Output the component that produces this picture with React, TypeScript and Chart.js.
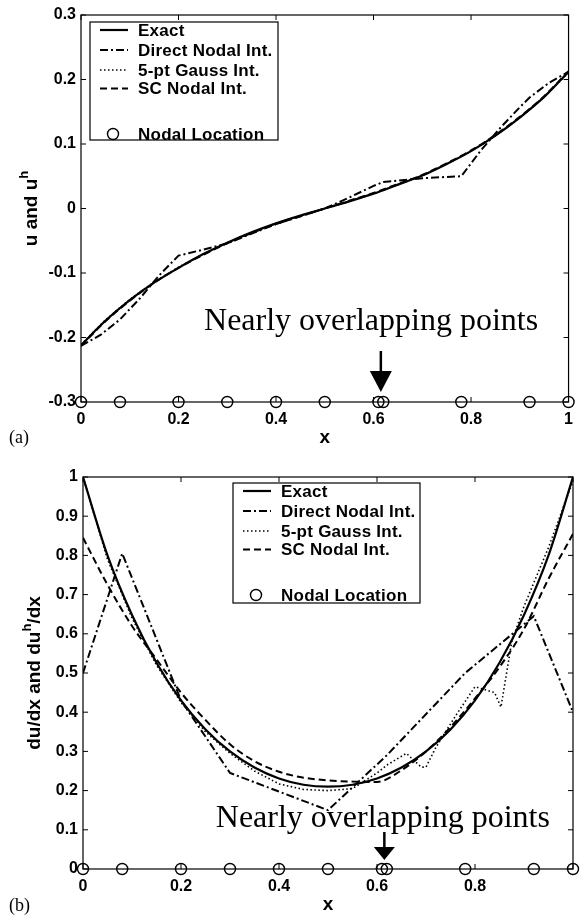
import React, { useEffect, useRef } from "react";
import { Chart, registerables } from "chart.js";

Chart.register(...registerables);

// ---------- data ----------
const xGrid = [0, 0.05, 0.1, 0.15, 0.2, 0.25, 0.3, 0.35, 0.4, 0.45, 0.5, 0.55, 0.6, 0.65, 0.7, 0.75, 0.8, 0.85, 0.9, 0.95, 1];
const nodalX = [0, 0.08, 0.2, 0.3, 0.4, 0.5, 0.61, 0.62, 0.78, 0.92, 1];

// (a) u and u^h
const exactU = [-0.212, -0.174, -0.142, -0.115, -0.092, -0.071, -0.053, -0.037, -0.023, -0.011, 0, 0.011, 0.023, 0.037, 0.051, 0.069, 0.089, 0.113, 0.141, 0.173, 0.212];
const gaussU = [-0.211, -0.173, -0.141, -0.114, -0.091, -0.071, -0.053, -0.037, -0.023, -0.011, 0, 0.011, 0.023, 0.037, 0.051, 0.069, 0.089, 0.113, 0.141, 0.173, 0.211];
const scU = [-0.213, -0.175, -0.143, -0.115, -0.092, -0.072, -0.054, -0.038, -0.024, -0.012, 0, 0.012, 0.024, 0.038, 0.052, 0.07, 0.09, 0.114, 0.142, 0.174, 0.213];
const directUX = [0, 0.04, 0.08, 0.12, 0.16, 0.2, 0.25, 0.3, 0.4, 0.5, 0.55, 0.6, 0.62, 0.7, 0.78, 0.82, 0.86, 0.9, 0.92, 0.96, 1];
const directU = [-0.213, -0.196, -0.172, -0.14, -0.104, -0.073, -0.064, -0.054, -0.024, 0, 0.017, 0.035, 0.041, 0.047, 0.05, 0.09, 0.125, 0.157, 0.172, 0.195, 0.212];

// (b) du/dx and du^h/dx
const exactDu = [1.0, 0.8, 0.648, 0.526, 0.43, 0.356, 0.3, 0.259, 0.231, 0.215, 0.21, 0.215, 0.231, 0.259, 0.3, 0.356, 0.43, 0.526, 0.648, 0.8, 1.0];
const scDu = [0.845, 0.725, 0.62, 0.535, 0.45, 0.38, 0.318, 0.275, 0.248, 0.233, 0.226, 0.223, 0.222, 0.252, 0.3, 0.362, 0.435, 0.515, 0.612, 0.74, 0.855];
const gaussDuX = [0, 0.05, 0.1, 0.15, 0.2, 0.25, 0.3, 0.35, 0.4, 0.45, 0.5, 0.55, 0.6, 0.62, 0.66, 0.69, 0.7, 0.72, 0.76, 0.8, 0.84, 0.853, 0.875, 0.9, 0.95, 1];
const gaussDu = [1.0, 0.79, 0.64, 0.52, 0.425, 0.35, 0.295, 0.25, 0.217, 0.203, 0.2, 0.205, 0.245, 0.265, 0.295, 0.26, 0.26, 0.31, 0.39, 0.465, 0.45, 0.413, 0.58, 0.67, 0.82, 0.99];
const directDuX = [0, 0.08, 0.2, 0.3, 0.5, 0.62, 0.78, 0.92, 1];
const directDu = [0.5, 0.805, 0.43, 0.245, 0.15, 0.29, 0.5, 0.645, 0.4];

const xTicks = [0, 0.2, 0.4, 0.6, 0.8, 1];
const uTicks = [-0.3, -0.2, -0.1, 0, 0.1, 0.2, 0.3];
const duTicks = [0, 0.1, 0.2, 0.3, 0.4, 0.5, 0.6, 0.7, 0.8, 0.9, 1];

const legendLabels = ["Exact", "Direct Nodal Int.", "5-pt Gauss Int.", "SC Nodal Int.", "Nodal Location"];
const noteText = "Nearly overlapping points";

// ---------- styles ----------
const SANS = "'Liberation Sans', Arial, Helvetica, sans-serif";
const SERIF = "'Liberation Serif', 'Times New Roman', serif";
const DASH_DOT = [8, 3, 2, 3];
const DOTTED = [1.5, 2.5];
const DASHED = [7, 4];

const pts = (xs: number[], ys: number[]) => xs.map((x, i) => ({ x, y: ys[i] }));

type PanelCfg = {
  width: number;
  height: number;
  area: { left: number; top: number; right: number; bottom: number };
  yMin: number;
  yMax: number;
  yTicks: number[];
  hideXLabel1: boolean;
  exact: number[];
  direct: { x: number[]; y: number[] };
  gauss: { x: number[]; y: number[] };
  sc: number[];
  yTitle: [string, string, string];
  yTitleX: number;
  legend: { x: number; y: number; w: number; h: number };
  noteX: number;
  noteBaseOff: number;
  arrow: { shaftTop: number; headTop: number; tip: number; half: number };
  panelLabel: string;
  labelBase: number;
};

function makePlugin(c: PanelCfg) {
  return {
    id: "decor",
    afterDatasetsDraw(chart: any) {
      const ctx: CanvasRenderingContext2D = chart.ctx;
      const a = chart.chartArea;
      const xs = chart.scales.x;
      const ys = chart.scales.y;
      ctx.save();
      ctx.setLineDash([]);
      ctx.strokeStyle = "#000";
      ctx.fillStyle = "#000";
      // frame
      ctx.lineWidth = 1.2;
      ctx.strokeRect(a.left, a.top, a.right - a.left, a.bottom - a.top);
      // inward ticks
      ctx.lineWidth = 1;
      const tl = 5;
      ctx.beginPath();
      for (const v of xTicks) {
        const px = xs.getPixelForValue(v);
        ctx.moveTo(px, a.bottom);
        ctx.lineTo(px, a.bottom - tl);
        ctx.moveTo(px, a.top);
        ctx.lineTo(px, a.top + tl);
      }
      for (const v of c.yTicks) {
        const py = ys.getPixelForValue(v);
        ctx.moveTo(a.left, py);
        ctx.lineTo(a.left + tl, py);
        ctx.moveTo(a.right, py);
        ctx.lineTo(a.right - tl, py);
      }
      ctx.stroke();

      // legend
      const L = c.legend;
      ctx.fillStyle = "#fff";
      ctx.fillRect(L.x, L.y, L.w, L.h);
      ctx.strokeStyle = "#000";
      ctx.lineWidth = 1.2;
      ctx.strokeRect(L.x, L.y, L.w, L.h);
      const rows = [8, 28, 48, 66.5, 112];
      const dashes = [[], DASH_DOT, DOTTED, DASHED];
      const widths = [2.2, 2, 1.6, 2];
      for (let i = 0; i < 4; i++) {
        const yy = L.y + rows[i];
        ctx.setLineDash(dashes[i]);
        ctx.lineWidth = widths[i];
        ctx.beginPath();
        ctx.moveTo(L.x + 10, yy);
        ctx.lineTo(L.x + 38, yy);
        ctx.stroke();
      }
      ctx.setLineDash([]);
      ctx.lineWidth = 1.4;
      ctx.beginPath();
      ctx.arc(L.x + 23, L.y + rows[4], 5.5, 0, Math.PI * 2);
      ctx.stroke();
      ctx.fillStyle = "#000";
      ctx.font = `bold 17px ${SANS}`;
      (ctx as any).letterSpacing = "0.25px";
      ctx.textBaseline = "middle";
      ctx.textAlign = "left";
      for (let i = 0; i < 5; i++) {
        ctx.fillText(legendLabels[i], L.x + 48, L.y + rows[i] + 1);
      }
      (ctx as any).letterSpacing = "0px";

      // annotation text + arrow
      ctx.font = `32px ${SERIF}`;
      ctx.textAlign = "center";
      ctx.textBaseline = "alphabetic";
      ctx.fillText(noteText, xs.getPixelForValue(c.noteX), a.bottom - c.noteBaseOff);
      const ax = xs.getPixelForValue(0.615);
      const ar = c.arrow;
      ctx.lineWidth = 2.5;
      ctx.beginPath();
      ctx.moveTo(ax, a.bottom - ar.shaftTop);
      ctx.lineTo(ax, a.bottom - ar.headTop);
      ctx.stroke();
      ctx.beginPath();
      ctx.moveTo(ax - ar.half, a.bottom - ar.headTop);
      ctx.lineTo(ax + ar.half, a.bottom - ar.headTop);
      ctx.lineTo(ax, a.bottom - ar.tip);
      ctx.closePath();
      ctx.fill();

      // x title
      ctx.font = `bold 19px ${SANS}`;
      ctx.textAlign = "center";
      ctx.fillText("x", (a.left + a.right) / 2, a.bottom + 41);

      // y title with superscript
      const [p1, sup, p2] = c.yTitle;
      const mainFont = `bold 19px ${SANS}`;
      const supFont = `bold 13px ${SANS}`;
      ctx.font = mainFont;
      const w1 = ctx.measureText(p1).width;
      const w3 = ctx.measureText(p2).width;
      ctx.font = supFont;
      const w2 = ctx.measureText(sup).width;
      const total = w1 + w2 + w3;
      ctx.save();
      ctx.translate(c.yTitleX, (a.top + a.bottom) / 2);
      ctx.rotate(-Math.PI / 2);
      ctx.textAlign = "left";
      let cx = -total / 2;
      ctx.font = mainFont;
      ctx.fillText(p1, cx, 0);
      cx += w1;
      ctx.font = supFont;
      ctx.fillText(sup, cx, -9);
      cx += w2;
      ctx.font = mainFont;
      ctx.fillText(p2, cx, 0);
      ctx.restore();

      // panel label
      ctx.font = `18px ${SERIF}`;
      ctx.textAlign = "left";
      ctx.fillText(c.panelLabel, 9, c.labelBase);
      ctx.restore();
    },
  };
}

function makeConfig(c: PanelCfg): any {
  const fmt = (v: number) => String(Math.round(v * 10) / 10);
  return {
    type: "scatter",
    data: {
      datasets: [
        {
          label: legendLabels[0],
          data: pts(xGrid, c.exact),
          showLine: true,
          borderColor: "#000",
          borderWidth: 2.2,
          pointRadius: 0,
          cubicInterpolationMode: "monotone",
        },
        {
          label: legendLabels[1],
          data: pts(c.direct.x, c.direct.y),
          showLine: true,
          borderColor: "#000",
          borderWidth: 2,
          borderDash: DASH_DOT,
          pointRadius: 0,
          tension: 0,
        },
        {
          label: legendLabels[2],
          data: pts(c.gauss.x, c.gauss.y),
          showLine: true,
          borderColor: "#000",
          borderWidth: 1.6,
          borderDash: DOTTED,
          pointRadius: 0,
          tension: 0,
        },
        {
          label: legendLabels[3],
          data: pts(xGrid, c.sc),
          showLine: true,
          borderColor: "#000",
          borderWidth: 2,
          borderDash: DASHED,
          pointRadius: 0,
          cubicInterpolationMode: "monotone",
        },
        {
          label: legendLabels[4],
          data: nodalX.map((x) => ({ x, y: c.yMin })),
          showLine: false,
          borderColor: "#000",
          backgroundColor: "rgba(0,0,0,0)",
          borderWidth: 1.4,
          pointRadius: 5.5,
          pointStyle: "circle",
          clip: false,
        },
      ],
    },
    options: {
      responsive: false,
      animation: false,
      layout: {
        padding: {
          left: 0,
          top: c.area.top,
          right: c.width - c.area.right,
          bottom: 0,
        },
      },
      plugins: { legend: { display: false }, tooltip: { enabled: false }, title: { display: false } },
      scales: {
        x: {
          type: "linear",
          min: 0,
          max: 1,
          grid: { display: false, drawTicks: false },
          border: { display: false },
          afterBuildTicks: (s: any) => {
            s.ticks = xTicks.map((v) => ({ value: v }));
          },
          afterFit: (s: any) => {
            s.height = c.height - c.area.bottom;
          },
          ticks: {
            color: "#000",
            padding: 8,
            maxRotation: 0,
            autoSkip: false,
            font: { family: SANS, size: 16, weight: "bold" },
            callback: (v: number) => (c.hideXLabel1 && v === 1 ? "" : fmt(v)),
          },
        },
        y: {
          type: "linear",
          min: c.yMin,
          max: c.yMax,
          grid: { display: false, drawTicks: false },
          border: { display: false },
          afterBuildTicks: (s: any) => {
            s.ticks = c.yTicks.map((v) => ({ value: v }));
          },
          afterFit: (s: any) => {
            s.width = c.area.left;
          },
          ticks: {
            color: "#000",
            padding: 5,
            autoSkip: false,
            font: { family: SANS, size: 16, weight: "bold" },
            callback: (v: number) => fmt(v),
          },
        },
      },
    },
    plugins: [makePlugin(c)],
  };
}

const topCfg: PanelCfg = {
  width: 581,
  height: 450,
  area: { left: 81, top: 15, right: 573, bottom: 402 },
  yMin: -0.3,
  yMax: 0.3,
  yTicks: uTicks,
  hideXLabel1: false,
  exact: exactU,
  direct: { x: directUX, y: directU },
  gauss: { x: xGrid, y: gaussU },
  sc: scU,
  yTitle: ["u and u", "h", ""],
  yTitleX: 37,
  legend: { x: 90, y: 22, w: 188, h: 118 },
  noteX: 0.595,
  noteBaseOff: 72,
  arrow: { shaftTop: 51, headTop: 31, tip: 10, half: 11 },
  panelLabel: "(a)",
  labelBase: 443,
};

const bottomCfg: PanelCfg = {
  width: 581,
  height: 469,
  area: { left: 83, top: 27, right: 580, bottom: 419 },
  yMin: 0,
  yMax: 1,
  yTicks: duTicks,
  hideXLabel1: true,
  exact: exactDu,
  direct: { x: directDuX, y: directDu },
  gauss: { x: gaussDuX, y: gaussDu },
  sc: scDu,
  yTitle: ["du/dx and du", "h", "/dx"],
  yTitleX: 40,
  legend: { x: 233, y: 33, w: 187, h: 120 },
  noteX: 0.612,
  noteBaseOff: 42,
  arrow: { shaftTop: 37, headTop: 22, tip: 9, half: 10.5 },
  panelLabel: "(b)",
  labelBase: 461,
};

function Panel({ cfg, top }: { cfg: PanelCfg; top: number }) {
  const ref = useRef<HTMLCanvasElement | null>(null);
  useEffect(() => {
    if (!ref.current) return;
    const chart = new Chart(ref.current, makeConfig(cfg));
    return () => chart.destroy();
  }, [cfg]);
  return (
    <canvas
      ref={ref}
      width={cfg.width}
      height={cfg.height}
      style={{ position: "absolute", left: 0, top, width: cfg.width, height: cfg.height }}
    />
  );
}

export default function App() {
  return (
    <div
      style={{
        position: "absolute",
        left: 0,
        top: 0,
        width: 581,
        height: 919,
        overflow: "hidden",
        background: "#fff",
      }}
    >
      <Panel cfg={topCfg} top={0} />
      <Panel cfg={bottomCfg} top={450} />
    </div>
  );
}
